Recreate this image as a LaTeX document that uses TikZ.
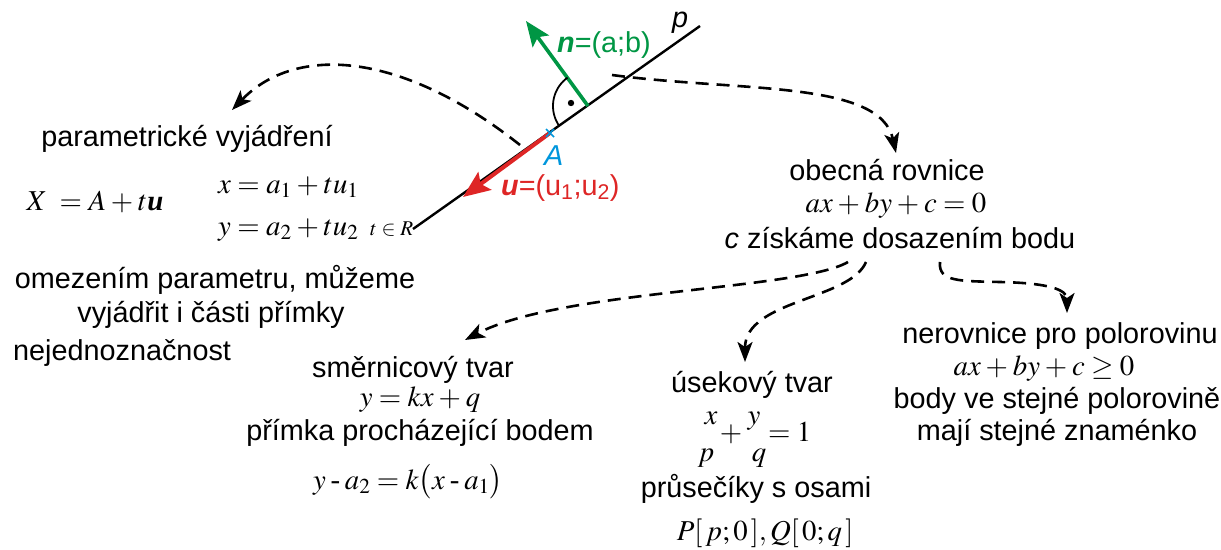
\documentclass[tikz,border=0pt]{standalone}
\usepackage{mathptmx}
\usepackage[no-math]{fontspec}
\setmainfont{Liberation Sans}
\newfontfamily\tms{Liberation Serif}
\usetikzlibrary{arrows.meta,calc}
\definecolor{vred}{RGB}{222,38,38}
\definecolor{vgreen}{RGB}{0,150,68}
\definecolor{vblue}{RGB}{0,150,220}
\newcommand{\bvu}{\hbox{\tms\bfseries\itshape u}}
\newcommand{\hmin}{\mathbin{\hbox{\tms -}}}
\begin{document}
\medmuskip=3mu plus 1mu
\thickmuskip=4mu plus 1mu
\begin{tikzpicture}[x=1pt,y=-1pt,
  txt/.style={inner sep=0pt, anchor=base, font=\fontsize{28.8}{34}\selectfont},
  txtw/.style={txt, anchor=base west},
  dsh/.style={line width=2.6pt, dash pattern=on 13pt off 8pt,
    -{Stealth[length=20pt,width=15pt,inset=5pt]}},
  pline/.style={line width=2.4pt, black},
]
\useasboundingbox (0,0) rectangle (1221,549);

% line p and vectors
\coordinate (pL) at (413,229);
\coordinate (pU) at (700,26);
\coordinate (A) at (550,133);
\coordinate (foot) at (588,106);
\coordinate (utip) at (463,197);
\coordinate (ntip) at (526,21);
\draw[pline] (pL) -- (pU);
\draw[vgreen, line width=3.6pt, -{Stealth[length=25pt,width=20pt,inset=5pt]}] (foot) -- (ntip);
\draw[vred, line width=4pt, -{Stealth[length=27pt,width=22pt,inset=5pt]}] (A) -- (utip);
\draw[line width=1.8pt] plot[domain=125.8:215.3, samples=40] ({588+35*cos(\x)}, {106-35*sin(\x)});
\fill (571,103) circle (3.2pt);
\draw[vblue, line width=1.6pt] ($(A)+(-4,-4)$) -- ($(A)+(4,4)$) ($(A)+(-4,4)$) -- ($(A)+(4,-4)$);
\node[txtw, text=vblue] (Alab) at (544,165) {\textit{A}};
\node[txtw] (plab) at (672,27) {\textit{p}};
\node[txtw, text=vgreen] (nlab) at (557,52) {\textbf{\textit{n}}=(a;b)};
\node[txtw, text=vred] (ulab) at (501,195) {\textbf{\textit{u}}=(u\textsubscript{1};u\textsubscript{2})};

% left texts
\node[txt] (param) at (187,146) {parametrické vyjádření};
\node[txt] (Xeq) at (95,210) {$X\;=A+t\bvu$};
\node[txtw] (xeq) at (218,193) {$x=a_1+tu_1$};
\node[txtw] (yeq) at (218,235) {$y=a_2+tu_2$};
\node[inner sep=0pt, anchor=base west, font=\fontsize{21}{25}\selectfont] (tR) at (370,235) {$t\in R$};
\node[txt] (omez) at (215,288) {omezením parametru, můžeme};
\node[txt] (vyj) at (211,322) {vyjádřit i části přímky};
\node[txtw] (nejed) at (13,360) {nejednoznačnost};

% general equation
\node[txt] (obec) at (887,180) {obecná rovnice};
\node[txt] (obeq) at (896,212) {$ax+by+c=0$};
\node[txt] (czisk) at (900,248) {\textit{c} získáme dosazením bodu};

% slope form
\node[txt] (smer) at (413,377) {směrnicový tvar};
\node[txt] (smeq) at (420,406) {$y=kx+q$};
\node[txt] (prim) at (420,440) {přímka procházející bodem};
\node[txt] (primeq) at (408,489) {$y\hmin a_2=k\bigl(x\hmin a_1\bigr)$};

% intercept form
\node[txt] (usek) at (752,392) {úsekový tvar};
\node[txt] (fx) at (711,424) {$x$};
\node[txt] (fp) at (706,461) {$p$};
\node[txt] (fplus) at (731,441) {$+$};
\node[txt] (fy) at (754,424) {$y$};
\node[txt] (fq) at (759,461) {$q$};
\node[txtw] (feq) at (768,441) {$=1$};
\node[txt] (prus) at (756,497) {průsečíky s osami};
\node[txt] (PQ) at (765,540) {$P[\,p;0\,],Q[\,0;q\,]$};

% half-plane
\node[txt] (nerov) at (1060,343) {nerovnice pro polorovinu};
\node[txt] (nereq) at (1044,375) {$ax+by+c\geq 0$};
\node[txt] (body) at (1057,408) {body ve stejné polorovině};
\node[txt] (maji) at (1057,440) {mají stejné znaménko};

% dashed connectors
\coordinate (c1s) at (520,145);
\coordinate (c1e) at (232,110);
\draw[dsh] (c1s) .. controls (400,50) and (295,45) .. (c1e);
\coordinate (c2s) at (612,75);
\coordinate (c2e) at (896,153);
\draw[dsh] (c2s) .. controls (740,92) and (880,80) .. (c2e);
\coordinate (c3s) at (848,262);
\coordinate (c3e) at (465,340);
\draw[dsh] (c3s) .. controls (800,290) and (560,290) .. (c3e);
\coordinate (c4s) at (866,262);
\coordinate (c4e) at (745,362);
\draw[dsh] (c4s) .. controls (850,300) and (745,300) .. (c4e);
\coordinate (c5s) at (940,262);
\coordinate (c5m) at (1000,282);
\coordinate (c5e) at (1067,313);
\draw[dsh] (c5s) .. controls (938,282) and (960,281) .. (c5m) .. controls (1050,283) and (1067,290) .. (c5e);
\end{tikzpicture}
\end{document}
